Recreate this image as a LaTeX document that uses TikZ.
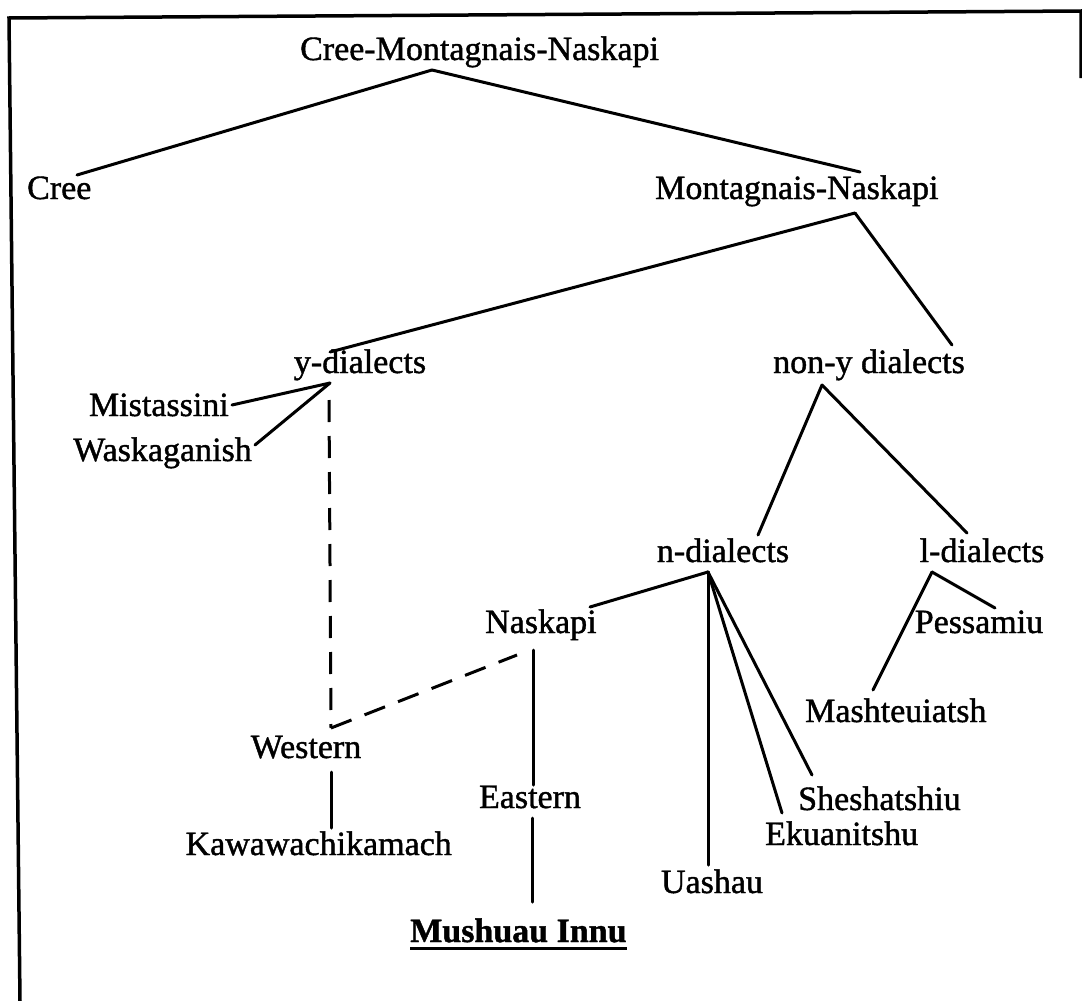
\documentclass[tikz,border=0pt]{standalone}
\usepackage{fontspec}
\setmainfont{Liberation Serif}
\newfontfamily\inkfont[FakeBold=1.2]{Liberation Serif}
\newfontfamily\inkbold[BoldFeatures={FakeBold=1.2}]{Liberation Serif}
\begin{document}
\begin{tikzpicture}[x=1pt,y=-1pt,
  lbl/.style={inner sep=0pt,font=\inkfont\fontsize{34}{40}\selectfont},
  edge/.style={line width=3pt,line cap=round},
  dedge/.style={line width=3pt,dash pattern=on 22pt off 14pt},
  frame/.style={line width=3.5pt}]
\useasboundingbox (0,0) rectangle (1082,1001);
\fill[white] (0,0) rectangle (1082,1001);

% frame
\coordinate (ftl) at (9,18);
\coordinate (ftr) at (1081,11);
\coordinate (fbl) at (20,1001);
\coordinate (frs) at (1081,78);
\draw[frame] (fbl) -- (ftl) -- (ftr) -- (frs);

% labels
\node[lbl,anchor=base west] (cmn) at (300,60) {Cree-Montagnais-Naskapi};
\node[lbl,anchor=base west] (cree) at (27,199) {Cree};
\node[lbl,anchor=base west] (mn) at (655,199) {Montagnais-Naskapi};
\node[lbl,anchor=base] (yd) at (360,373) {y-dialects};
\node[lbl,anchor=base west] (nony) at (773,373) {non-y dialects};
\node[lbl,anchor=base east] (mist) at (229,416) {Mistassini};
\node[lbl,anchor=base east] (wask) at (252,461) {Waskaganish};
\node[lbl,anchor=base] (nd) at (723,562) {n-dialects};
\node[lbl,anchor=base] (ld) at (982,562) {l-dialects};
\node[lbl,anchor=base west] (nask) at (485,633) {Naskapi};
\node[lbl,anchor=base] (pess) at (979,633) {Pessamiu};
\node[lbl,anchor=base west] (mash) at (805,722) {Mashteuiatsh};
\node[lbl,anchor=base] (west) at (306,758) {Western};
\node[lbl,anchor=base] (east) at (530,808) {Eastern};
\node[lbl,anchor=base west] (shesh) at (798,810) {Sheshatshiu};
\node[lbl,anchor=base east] (kawa) at (452,855) {Kawawachikamach};
\node[lbl,anchor=base west] (ekua) at (765,845) {Ekuanitshu};
\node[lbl,anchor=base] (uash) at (712,893) {Uashau};
\node[lbl,anchor=base west,font=\inkbold\bfseries\fontsize{34}{40}\selectfont] (mush) at (410,942) {Mushuau Innu};
\draw[line width=3pt] ([yshift=-6pt]mush.base west) -- ([yshift=-6pt]mush.base east);

% junction points
\coordinate (j0) at (432,70);
\coordinate (j1) at (855,213);
\coordinate (j2) at (330,383);
\coordinate (j3) at (822,385);
\coordinate (j4) at (708,572);
\coordinate (j5) at (932,572);
\coordinate (jn) at (533,650);
\coordinate (jw) at (331,728);

% tree
\draw[edge] (j0) -- (77,175) coordinate (creetop);
\draw[edge] (j0) -- (860,172) coordinate (mntop);
\draw[edge] (j1) -- (330,352) coordinate (ydtop);
\draw[edge] (j1) -- (952,345) coordinate (nonytop);
\draw[edge] (j2) -- (232,405) coordinate (mistend);
\draw[edge] (j2) -- (255,445) coordinate (waskend);
\draw[dedge] (329,400) -- (jw);
\draw[dedge] (jw) -- (517,655);
\draw[edge] (j3) -- (758,535) coordinate (ndtop);
\draw[edge] (j3) -- (967,533) coordinate (ldtop);
\draw[edge] (j4) -- (590,607) coordinate (nasktop);
\draw[edge] (j4) -- (708,865) coordinate (uashtop);
\draw[edge] (j4) -- (782,813) coordinate (ekuatop);
\draw[edge] (j4) -- (812,775) coordinate (sheshtop);
\draw[edge] (j5) -- (995,608) coordinate (pesstop);
\draw[edge] (j5) -- (873,690) coordinate (mashtop);
\draw[edge] (jn) -- (533,785) coordinate (easttop);
\draw[edge] (331,772) coordinate (westbot) -- (331,828) coordinate (kawatop);
\draw[edge] (532,818) coordinate (eastbot) -- (532,902) coordinate (mushtop);
\end{tikzpicture}
\end{document}
